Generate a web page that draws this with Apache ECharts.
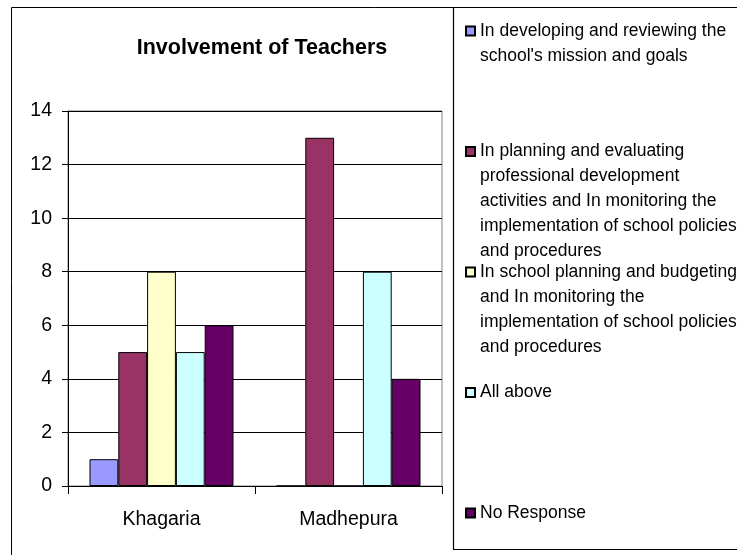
<!DOCTYPE html>
<html>
<head>
<meta charset="utf-8">
<script src="https://cdn.jsdelivr.net/npm/echarts@6/dist/echarts.min.js"></script>
<style>
  html, body { margin: 0; padding: 0; background: #fff; }
  #main { width: 737px; height: 555px; }
</style>
</head>
<body>
<div id="main"></div>
<script>
// data
const districts = ['Khagaria', 'Madhepura'];
const seriesNames = [
  "In developing and reviewing the school's mission and goals",
  'In planning and evaluating professional development activities and In monitoring the implementation of school policies and procedures',
  'In school planning and budgeting and In monitoring the implementation of school policies and procedures',
  'All above',
  'No Response'
];
// how the legend wraps each name
const legendLines = [
  ['In developing and reviewing the', "school's mission and goals"],
  ['In planning and evaluating', 'professional development', 'activities and In monitoring the', 'implementation of school policies', 'and procedures'],
  ['In school planning and budgeting', 'and In monitoring the', 'implementation of school policies', 'and procedures'],
  ['All above'],
  ['No Response']
];
const missionGoals = [1, 0];
const planningEvaluating = [5, 13];
const planningBudgeting = [8, 0];
const allAbove = [5, 8];
const noResponse = [6, 4];
const seriesValues = [missionGoals, planningEvaluating, planningBudgeting, allAbove, noResponse];
const colors = ['#9999FF', '#993366', '#FFFFCC', '#CCFFFF', '#660066'];
const yMin = 0, yMax = 14, yStep = 2;

const chart = echarts.init(document.getElementById('main'), null, { renderer: 'canvas' });
const font = "'Liberation Sans', Arial, sans-serif";
const lh = 25;

// one legend per entry so each can sit where the original puts it.
// the text block is centred on the icon, so blank lines go in front
// to bring the first line level with the square
const legends = seriesNames.map((name, i) => {
  const n = legendLines[i].length;
  const centerY = 31 + i * 120.5;
  return {
    left: 465,
    top: centerY - (2 * n - 1) * lh / 2,
    padding: 0,
    selectedMode: false,
    icon: 'rect',
    itemWidth: 9,
    itemHeight: 9,
    data: [name],
    formatter: () => '\n'.repeat(n - 1) + legendLines[i].join('\n'),
    textStyle: {
      color: '#000',
      fontSize: 17.5,
      fontFamily: font,
      lineHeight: lh
    }
  };
});

const option = {
  backgroundColor: '#fff',
  animation: false,
  title: {
    text: 'Involvement of Teachers',
    left: 262,
    top: 37,
    padding: 0,
    textAlign: 'center',
    textStyle: { fontSize: 21.5, fontWeight: 'bold', color: '#000', fontFamily: font }
  },
  legend: legends,
  grid: {
    left: 68, right: 295, top: 111, bottom: 69,
    show: true, borderColor: '#808080', borderWidth: 1, backgroundColor: 'transparent'
  },
  xAxis: {
    type: 'category',
    data: districts,
    axisLine: { lineStyle: { color: '#000', width: 1 } },
    axisTick: { show: true, length: 8, lineStyle: { color: '#000' } },
    axisLabel: { color: '#000', fontSize: 19.5, fontFamily: font, margin: 24 }
  },
  yAxis: {
    type: 'value',
    min: yMin, max: yMax, interval: yStep,
    axisLine: { show: true, lineStyle: { color: '#000', width: 1 } },
    axisTick: { show: true, length: 6, lineStyle: { color: '#000' } },
    axisLabel: { color: '#000', fontSize: 19.5, fontFamily: font, margin: 16 },
    splitLine: { show: true, lineStyle: { color: '#000', width: 1 } }
  },
  series: seriesNames.map((name, i) => ({
    name: name,
    type: 'bar',
    data: seriesValues[i],
    barGap: '0%',
    barCategoryGap: '23%',
    itemStyle: { color: colors[i], borderColor: '#000', borderWidth: 1 }
  })),
  graphic: [
    // outer chart frame (left and top edges visible)
    { type: 'polyline', silent: true, shape: { points: [[11.5, 560], [11.5, 7.5], [740, 7.5]] },
      style: { stroke: '#000', lineWidth: 1, fill: null } },
    // legend box
    { type: 'rect', silent: true, shape: { x: 453.5, y: 7.5, width: 300, height: 542 },
      style: { stroke: '#000', lineWidth: 1.2, fill: null } }
  ]
};

chart.setOption(option);
</script>
</body>
</html>
